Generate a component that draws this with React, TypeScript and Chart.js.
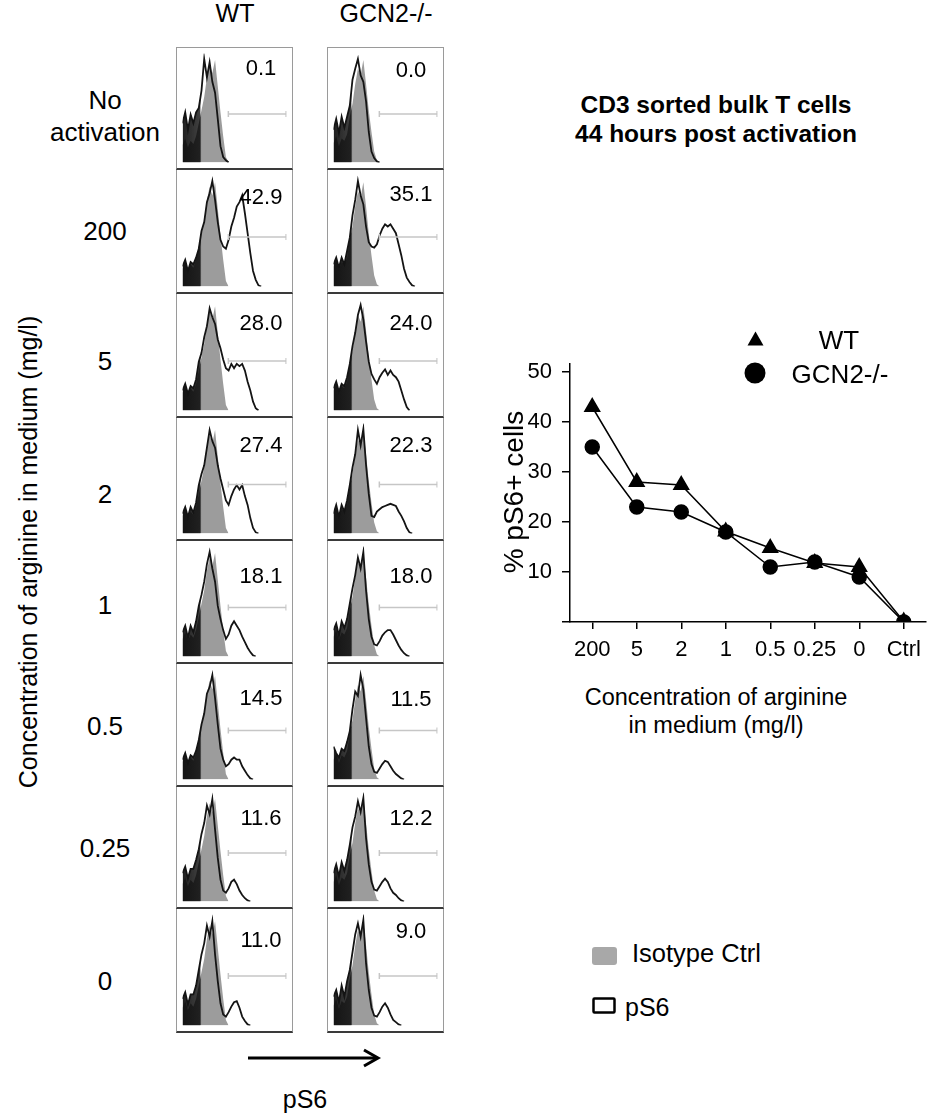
import React, { useEffect, useRef } from "react";
import { Chart, registerables } from "chart.js";

Chart.register(...registerables);

const FONT = '"Liberation Sans", Arial, Helvetica, sans-serif';
Chart.defaults.font.family = FONT;

// ---------- Line chart data ----------
const CONCENTRATIONS = ["200", "5", "2", "1", "0.5", "0.25", "0", "Ctrl"];
const WT_PS6 = [43, 28, 27.4, 18.1, 14.8, 11.8, 11, 0.1];
const GCN2_PS6 = [35, 23, 22, 18, 11, 12, 9, 0];
const Y_MAX = 51.6;
const Y_STEP = 10;

// ---------- Histogram panels ----------
const ROW_LABELS = ["No\nactivation", "200", "5", "2", "1", "0.5", "0.25", "0"];
const WT_PCT = ["0.1", "42.9", "28.0", "27.4", "18.1", "14.5", "11.6", "11.0"];
const GCN2_PCT = ["0.0", "35.1", "24.0", "22.3", "18.0", "11.5", "12.2", "9.0"];

// isotype control histograms (bins of equal width, height as % of panel)
const ISO_WT = [16, 22, 14, 20, 17, 24, 36, 48, 60, 78, 90, 82, 94, 70, 46, 24, 5, 0];
const ISO_GCN2 = [18, 24, 15, 22, 20, 26, 42, 54, 72, 86, 80, 94, 72, 48, 28, 10, 2, 0];

// pS6 histograms, WT column
const WT_H_NOACT = [36, 46, 30, 44, 36, 46, 50, 66, 95, 78, 92, 74, 64, 40, 15, 5, 2, 0];
const WT_H_200 = [18, 24, 14, 22, 20, 26, 34, 50, 58, 76, 84, 95, 78, 58, 42, 36, 34, 42, 54, 62, 72, 76, 82, 66, 48, 30, 14, 6, 1, 0];
const WT_H_5 = [18, 24, 15, 22, 20, 28, 44, 52, 66, 76, 92, 84, 78, 64, 56, 46, 38, 36, 42, 38, 42, 40, 42, 36, 26, 18, 8, 2, 0];
const WT_H_2 = [18, 24, 15, 24, 19, 28, 44, 54, 62, 78, 94, 84, 78, 62, 50, 40, 30, 26, 34, 40, 44, 40, 44, 34, 26, 14, 5, 1, 0];
const WT_H_1 = [22, 28, 17, 28, 22, 32, 46, 56, 68, 84, 95, 80, 68, 46, 34, 24, 16, 20, 28, 32, 28, 24, 18, 13, 8, 4, 1, 0];
const WT_H_05 = [18, 24, 15, 22, 20, 26, 36, 50, 60, 78, 84, 95, 74, 50, 28, 18, 12, 14, 18, 20, 18, 18, 12, 8, 4, 1, 0];
const WT_H_025 = [26, 32, 21, 30, 30, 38, 48, 62, 72, 88, 80, 94, 66, 40, 20, 10, 8, 12, 18, 20, 16, 10, 6, 3, 1, 0];
const WT_H_0 = [24, 30, 19, 28, 28, 36, 50, 64, 74, 90, 80, 94, 64, 40, 20, 10, 8, 12, 17, 21, 22, 16, 8, 4, 1, 0];

// pS6 histograms, GCN2-/- column
const GCN2_H_NOACT = [30, 40, 27, 42, 32, 42, 52, 76, 86, 95, 80, 74, 56, 28, 10, 4, 1, 0];
const GCN2_H_200 = [20, 26, 17, 26, 20, 32, 44, 64, 78, 95, 82, 74, 54, 40, 36, 35, 38, 46, 52, 56, 54, 56, 52, 48, 38, 28, 16, 8, 4, 1, 0];
const GCN2_H_5 = [20, 26, 17, 24, 22, 30, 42, 58, 70, 86, 95, 82, 62, 44, 33, 28, 24, 30, 34, 37, 32, 36, 32, 30, 26, 18, 10, 3, 0];
const GCN2_H_2 = [18, 26, 15, 26, 20, 30, 44, 60, 72, 94, 80, 95, 62, 36, 16, 15, 20, 22, 24, 25, 26, 27, 26, 25, 20, 16, 11, 5, 1, 0];
const GCN2_H_1 = [24, 30, 19, 32, 26, 34, 48, 62, 74, 90, 80, 95, 60, 34, 18, 11, 10, 14, 19, 22, 24, 24, 20, 15, 10, 6, 3, 1, 0];
const GCN2_H_05 = [30, 24, 20, 28, 26, 34, 44, 64, 80, 76, 95, 82, 56, 30, 14, 7, 6, 10, 14, 17, 16, 12, 8, 5, 3, 1, 0];
const GCN2_H_025 = [26, 34, 23, 36, 28, 38, 52, 68, 78, 92, 82, 95, 58, 34, 18, 11, 10, 14, 18, 21, 18, 12, 8, 6, 3, 1, 0];
const GCN2_H_0 = [26, 32, 21, 36, 26, 40, 50, 66, 82, 92, 80, 95, 56, 32, 16, 9, 8, 12, 17, 20, 16, 10, 5, 3, 1, 0];

const WT_HISTS = [WT_H_NOACT, WT_H_200, WT_H_5, WT_H_2, WT_H_1, WT_H_05, WT_H_025, WT_H_0];
const GCN2_HISTS = [GCN2_H_NOACT, GCN2_H_200, GCN2_H_5, GCN2_H_2, GCN2_H_1, GCN2_H_05, GCN2_H_025, GCN2_H_0];

// gate (bin range) and its level (% of panel height)
const GATE_RANGE = [16.9, 38.2];
const GATE_LEVEL = 44.5;

// ---------- Layout (positions, not data) ----------
const PANEL_LEFTS = [176, 327];
const PANEL_W = 117;
const ROW_EDGES = [47, 170, 294, 418, 541, 664, 787, 909, 1033];
const ROW_LABEL_Y = [115.5, 231, 361, 494, 605, 726, 848, 981];
const WT_LABEL_DY = [21, 27, 29, 26.5, 35, 33.5, 30.5, 30.5];
const GCN2_LABEL_DY = [22.5, 23.5, 28.5, 26.5, 35, 34.5, 30.5, 21.5];
const BIN_PX = 3;
const DARK_PX = 17;

function isoFill(ctx: any) {
  const chart = ctx.chart;
  const a = chart.chartArea;
  if (!a) return "#9c9c9c";
  const g = chart.ctx.createLinearGradient(a.left, 0, a.right, 0);
  const s = DARK_PX / (a.right - a.left);
  g.addColorStop(0, "#1c1c1c");
  g.addColorStop(s, "#2a2a2a");
  g.addColorStop(Math.min(1, s + 0.02), "#9c9c9c");
  g.addColorStop(1, "#9c9c9c");
  return g;
}

function ps6Fill(ctx: any) {
  const chart = ctx.chart;
  const a = chart.chartArea;
  if (!a) return "rgba(0,0,0,0)";
  const g = chart.ctx.createLinearGradient(a.left, 0, a.right, 0);
  const s = DARK_PX / (a.right - a.left);
  g.addColorStop(0, "rgba(20,20,20,0.95)");
  g.addColorStop(s, "rgba(30,30,30,0.85)");
  g.addColorStop(Math.min(1, s + 0.015), "rgba(0,0,0,0)");
  g.addColorStop(1, "rgba(0,0,0,0)");
  return g;
}

function HistPanel(props: { iso: number[]; ps6: number[]; left: number; top: number; height: number; first: boolean }) {
  const { iso, ps6, left, top, height, first } = props;
  const ref = useRef<HTMLCanvasElement>(null);
  const cw = PANEL_W - 2;
  const ch = height - 2 - (first ? 1 : 0);
  useEffect(() => {
    const chart = new Chart(ref.current as HTMLCanvasElement, {
      type: "line",
      data: {
        datasets: [
          {
            data: [
              { x: GATE_RANGE[0], y: GATE_LEVEL },
              { x: GATE_RANGE[1], y: GATE_LEVEL },
            ],
            borderColor: "#c6c6c6",
            borderWidth: 1.5,
            pointStyle: "line",
            rotation: 90,
            pointRadius: 3,
            pointBorderColor: "#c6c6c6",
            pointBorderWidth: 1.5,
            fill: false,
            order: 1,
          } as any,
          {
            data: ps6.map((v, i) => ({ x: i, y: v })),
            borderColor: "#141414",
            borderWidth: 1.8,
            backgroundColor: ps6Fill,
            pointRadius: 0,
            fill: "origin",
            tension: 0,
            order: 2,
          },
          {
            data: iso.map((v, i) => ({ x: i, y: v })),
            borderColor: "rgba(0,0,0,0)",
            borderWidth: 0,
            backgroundColor: isoFill,
            fill: "origin",
            pointRadius: 0,
            tension: 0,
            order: 3,
          },
        ],
      },
      options: {
        animation: false,
        responsive: false,
        events: [],
        layout: { padding: 0 },
        plugins: { legend: { display: false }, tooltip: { enabled: false } },
        scales: {
          x: { type: "linear", display: false, min: 0, max: cw / BIN_PX },
          y: { type: "linear", display: false, min: 0, max: 100 },
        },
      },
    });
    return () => chart.destroy();
  }, []);
  return (
    <div
      style={{
        position: "absolute",
        left,
        top,
        width: PANEL_W,
        height,
        boxSizing: "border-box",
        borderLeft: "1px solid #9a9a9a",
        borderRight: "1px solid #9a9a9a",
        borderTop: first ? "1px solid #9a9a9a" : "none",
        borderBottom: "2px solid #3a3a3a",
      }}
    >
      <canvas ref={ref} width={cw} height={ch} style={{ display: "block", width: cw, height: ch }} />
    </div>
  );
}

function LineChart() {
  const ref = useRef<HTMLCanvasElement>(null);
  useEffect(() => {
    const chart = new Chart(ref.current as HTMLCanvasElement, {
      type: "line",
      data: {
        labels: CONCENTRATIONS,
        datasets: [
          {
            label: "GCN2-/-",
            data: GCN2_PS6,
            borderColor: "#000",
            borderWidth: 1.5,
            pointStyle: "circle",
            pointRadius: 7,
            pointBackgroundColor: "#000",
            pointBorderColor: "#000",
            tension: 0,
          },
          {
            label: "WT",
            data: WT_PS6,
            borderColor: "#000",
            borderWidth: 1.5,
            pointStyle: "triangle",
            pointRadius: 8.5,
            pointBackgroundColor: "#000",
            pointBorderColor: "#000",
            tension: 0,
          },
        ],
      },
      options: {
        animation: false,
        responsive: false,
        events: [],
        layout: { padding: { top: 34, left: 0, right: 0, bottom: 0 } },
        plugins: { legend: { display: false }, tooltip: { enabled: false } },
        scales: {
          x: {
            type: "category",
            offset: true,
            grid: { offset: false, drawOnChartArea: false, drawTicks: true, tickLength: 7, color: "#000", lineWidth: 1.5 },
            border: { display: true, color: "#000", width: 1.5 },
            ticks: { color: "#000", font: { size: 22, family: FONT }, padding: 8, maxRotation: 0, autoSkip: false },
            afterFit: (s: any) => {
              s.height = 60;
            },
          },
          y: {
            type: "linear",
            min: 0,
            max: Y_MAX,
            grid: { drawOnChartArea: false, drawTicks: true, tickLength: 8, color: "#000", lineWidth: 1.5 },
            border: { display: true, color: "#000", width: 1.5 },
            ticks: {
              stepSize: Y_STEP,
              includeBounds: false,
              color: "#000",
              font: { size: 22, family: FONT },
              padding: 10,
              callback: (v: any) => (Number(v) === 0 ? "" : String(v)),
            },
            afterFit: (s: any) => {
              s.width = 60;
            },
          } as any,
        },
      },
    });
    return () => chart.destroy();
  }, []);
  return (
    <canvas
      ref={ref}
      width={426}
      height={352}
      style={{ position: "absolute", left: 510, top: 330, width: 426, height: 352, display: "block" }}
    />
  );
}

function Txt(props: { x: number; y: number; size: number; children: any; bold?: boolean; align?: "center" | "left"; lh?: number }) {
  const { x, y, size, children, bold, align = "center", lh } = props;
  const tx = align === "center" ? "-50%" : "0";
  return (
    <div
      style={{
        position: "absolute",
        left: x,
        top: y,
        transform: `translate(${tx},-50%)`,
        fontSize: size,
        fontWeight: bold ? "bold" : "normal",
        lineHeight: lh ? `${lh}px` : 1,
        whiteSpace: "pre",
        textAlign: "center",
      }}
    >
      {children}
    </div>
  );
}

function RotTxt(props: { x: number; y: number; size: number; children: any }) {
  return (
    <div
      style={{
        position: "absolute",
        left: props.x,
        top: props.y,
        transform: "translate(-50%,-50%) rotate(-90deg)",
        fontSize: props.size,
        lineHeight: 1,
        whiteSpace: "nowrap",
      }}
    >
      {props.children}
    </div>
  );
}

export default function App() {
  const panels: any[] = [];
  for (let r = 0; r < 8; r++) {
    const top = ROW_EDGES[r];
    const h = ROW_EDGES[r + 1] - ROW_EDGES[r];
    panels.push(
      <HistPanel key={`w${r}`} iso={ISO_WT} ps6={WT_HISTS[r]} left={PANEL_LEFTS[0]} top={top} height={h} first={r === 0} />
    );
    panels.push(
      <HistPanel key={`g${r}`} iso={ISO_GCN2} ps6={GCN2_HISTS[r]} left={PANEL_LEFTS[1]} top={top} height={h} first={r === 0} />
    );
    panels.push(
      <Txt key={`wl${r}`} x={PANEL_LEFTS[0] + 85} y={top + WT_LABEL_DY[r]} size={22}>
        {WT_PCT[r]}
      </Txt>
    );
    panels.push(
      <Txt key={`gl${r}`} x={PANEL_LEFTS[1] + 84} y={top + GCN2_LABEL_DY[r]} size={22}>
        {GCN2_PCT[r]}
      </Txt>
    );
    panels.push(
      <Txt key={`rl${r}`} x={105} y={ROW_LABEL_Y[r]} size={26} lh={32}>
        {ROW_LABELS[r]}
      </Txt>
    );
  }

  return (
    <div
      style={{
        position: "absolute",
        left: 0,
        top: 0,
        width: 936,
        height: 1113,
        overflow: "hidden",
        background: "#fff",
        fontFamily: FONT,
        color: "#000",
      }}
    >
      <Txt x={235} y={13} size={25}>WT</Txt>
      <Txt x={386} y={13} size={25}>GCN2-/-</Txt>
      <RotTxt x={28} y={552} size={25}>Concentration of arginine in medium (mg/l)</RotTxt>
      {panels}

      <Txt x={716} y={118.5} size={24.5} bold lh={29}>{"CD3 sorted bulk T cells\n44 hours post activation"}</Txt>

      <LineChart />

      <Txt x={839} y={340} size={26}>WT</Txt>
      <Txt x={840} y={374} size={26}>GCN2-/-</Txt>
      <RotTxt x={514} y={492} size={28}>% pS6+ cells</RotTxt>
      <Txt x={716} y={711} size={23.5} lh={28}>{"Concentration of arginine\nin medium (mg/l)"}</Txt>

      <Txt x={632} y={954} size={25.5} align="left">Isotype Ctrl</Txt>
      <Txt x={625} y={1007} size={25} align="left">pS6</Txt>
      <Txt x={305} y={1099} size={25}>pS6</Txt>

      <svg
        width={936}
        height={1113}
        style={{ position: "absolute", left: 0, top: 0, pointerEvents: "none" }}
      >
        <polygon points="747.5,345.5 763.5,345.5 755.5,331.5" fill="#000" />
        <circle cx={755} cy={373} r={10.5} fill="#000" />
        <rect x={592} y={947} width={25} height={18} rx={3} fill="#a8a8a8" />
        <rect x={593.5} y={998.5} width={21} height={14} rx={1} fill="none" stroke="#000" strokeWidth={2.5} />
        <line x1={248} y1={1058} x2={377} y2={1058} stroke="#000" strokeWidth={3} />
        <polyline points="364,1050 378,1058 364,1066" fill="none" stroke="#000" strokeWidth={3} />
      </svg>
    </div>
  );
}
